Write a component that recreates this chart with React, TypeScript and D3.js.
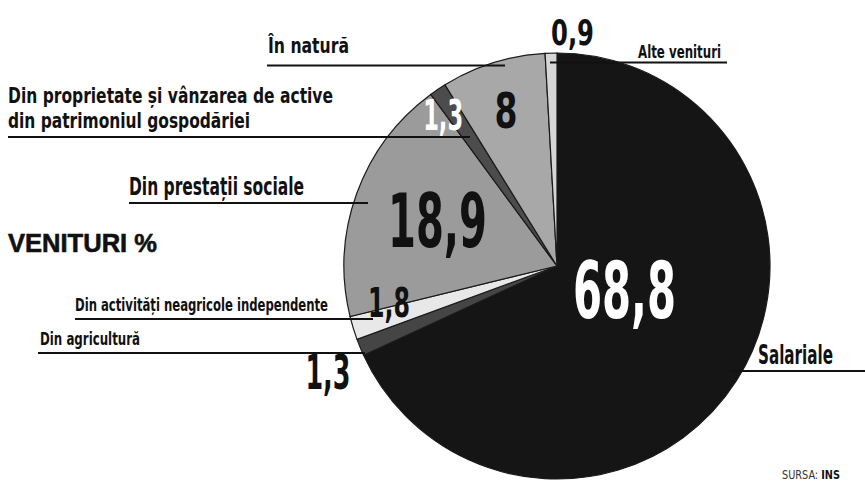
import React from "react";
import * as d3 from "d3";

const categories = [
  "Salariale",
  "Din agricultură",
  "Din activități neagricole independente",
  "Din prestații sociale",
  "Din proprietate și vânzarea de active din patrimoniul gospodăriei",
  "În natură",
  "Alte venituri",
];
const values = [68.8, 1.3, 1.8, 18.9, 1.3, 8, 0.9];
const valueLabels = ["68,8", "1,3", "1,8", "18,9", "1,3", "8", "0,9"];

// styling per slice
const fills = ["#151515", "#454545", "#e8e8e8", "#9b9b9b", "#4c4c4c", "#a8a8a8", "#d6d6d6"];
const numColors = ["#ffffff", "#111", "#111", "#111", "#ffffff", "#111", "#111"];
const numSizes = [78, 48, 40, 75, 42, 49, 35];
const numWidths = [103, 45, 42, 99, 40, 23, 43];
const labelRadius = [71.6, 252.5, 172, 128, 189, 163.6, 234];
const labelAngleShift = [-13, -2.4, 4.6, 1, -3, -0.7, 5.4];

const W = 865;
const H = 482;
const cx = 557;
const cy = 266;
const R = 213;

const FONT = "'Liberation Sans Narrow', 'DejaVu Sans Condensed', 'Liberation Sans', sans-serif";

type Ann = { lines: string[]; x: number; y: number; size: number; widths: number[]; lx1: number; lx2: number; ly: number; lineH?: number };
const annotations: Ann[] = [
  { lines: ["În natură"], x: 268, y: 53, size: 21, widths: [81], lx1: 267, lx2: 505, ly: 65.5 },
  { lines: ["Alte venituri"], x: 638, y: 58, size: 18, widths: [83], lx1: 550, lx2: 727, ly: 62.5 },
  { lines: ["Din proprietate și vânzarea de active", "din patrimoniul gospodăriei"], x: 8, y: 103, size: 22, widths: [325, 242], lx1: 8, lx2: 470, ly: 137, lineH: 25 },
  { lines: ["Din prestații sociale"], x: 129, y: 195, size: 25, widths: [175], lx1: 129, lx2: 368, ly: 203 },
  { lines: ["Din activități neagricole independente"], x: 75, y: 311, size: 18, widths: [253], lx1: 75, lx2: 373, ly: 319 },
  { lines: ["Din agricultură"], x: 40, y: 345, size: 17, widths: [100], lx1: 38, lx2: 365, ly: 353 },
  { lines: ["Salariale"], x: 758, y: 364, size: 26, widths: [75], lx1: 730, lx2: 865, ly: 371 },
];

export default function App() {
  const pie = d3.pie<number>().sort(null).value((d) => d).startAngle(0).endAngle(2 * Math.PI);
  const arcs = pie(values);
  const arcGen = d3.arc<d3.PieArcDatum<number>>().innerRadius(0).outerRadius(R);

  return (
    <svg width={W} height={H} style={{ position: "absolute", left: 0, top: 0, background: "#fff" }}>
      <rect width={W} height={H} fill="#fff" />
      <g transform={`translate(${cx},${cy})`}>
        {arcs.map((a, i) => (
          <path key={i} d={arcGen(a) || ""} fill={fills[i]} stroke="#1a1a1a" strokeWidth={1.2} />
        ))}
      </g>
      {annotations.map((a, i) => (
        <g key={"a" + i}>
          {a.lines.map((t, j) => (
            <text
              key={j}
              x={a.x}
              y={a.y + j * (a.lineH || 0)}
              fontFamily={FONT}
              fontWeight="bold"
              fontSize={a.size}
              fill="#111"
              textLength={a.widths[j]}
              lengthAdjust="spacingAndGlyphs"
            >
              {t}
            </text>
          ))}
          <line x1={a.lx1} x2={a.lx2} y1={a.ly} y2={a.ly} stroke="#111" strokeWidth={2} />
        </g>
      ))}
      {arcs.map((a, i) => {
        const ang = (a.startAngle + a.endAngle) / 2 + (labelAngleShift[i] * Math.PI) / 180;
        const x = cx + labelRadius[i] * Math.sin(ang);
        const y = cy - labelRadius[i] * Math.cos(ang);
        const cap = numSizes[i] * 0.72;
        return (
          <text
            key={"n" + i}
            x={x}
            y={y + cap / 2}
            textAnchor="middle"
            fontFamily={FONT}
            fontWeight="bold"
            fontSize={numSizes[i]}
            fill={numColors[i]}
            textLength={numWidths[i]}
            lengthAdjust="spacingAndGlyphs"
          >
            {valueLabels[i]}
          </text>
        );
      })}
      <text x={8} y={252} fontFamily="'Liberation Sans', Arial, sans-serif" fontWeight="900" fontSize={26} fill="#111" stroke="#111" strokeWidth={0.6} textLength={149} lengthAdjust="spacingAndGlyphs">
        VENITURI %
      </text>
      <text x={782} y={479} fontFamily={FONT} fontSize={13} fill="#333" textLength={58} lengthAdjust="spacingAndGlyphs">
        SURSA: <tspan fontWeight="bold" fill="#111">INS</tspan>
      </text>
    </svg>
  );
}
